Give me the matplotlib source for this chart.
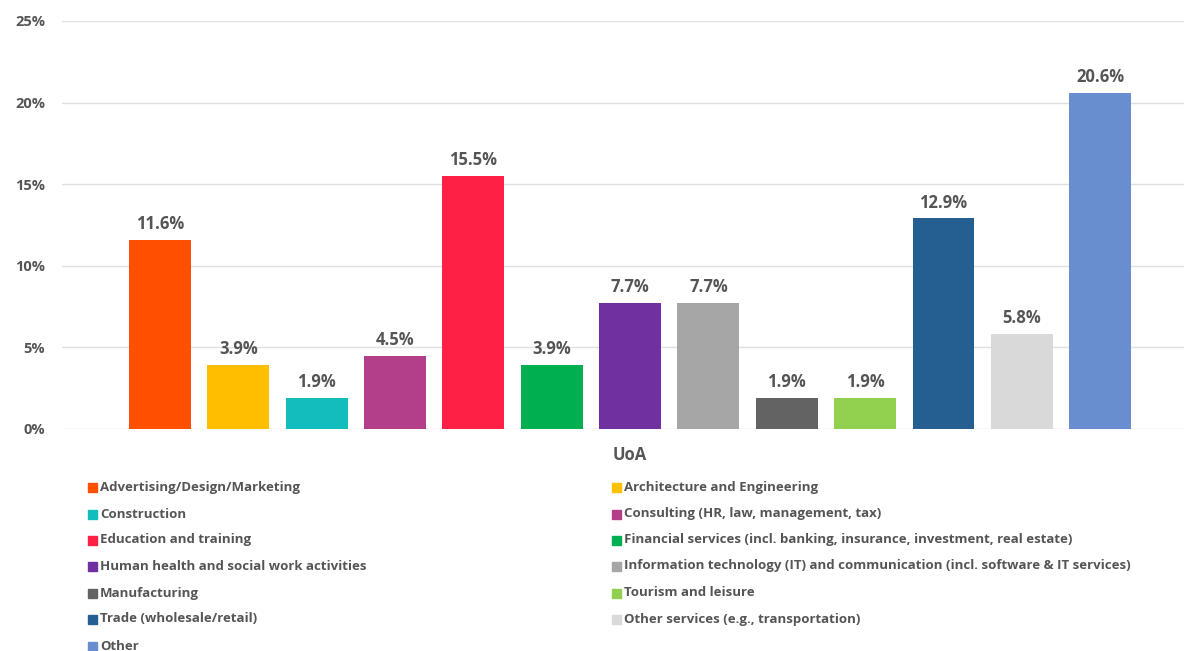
import matplotlib.pyplot as plt
from matplotlib.patches import Rectangle
from matplotlib.ticker import FuncFormatter

categories = [
    "Advertising/Design/Marketing",
    "Architecture and Engineering",
    "Construction",
    "Consulting (HR, law, management, tax)",
    "Education and training",
    "Financial services (incl. banking, insurance, investment, real estate)",
    "Human health and social work activities",
    "Information technology (IT) and communication (incl. software & IT services)",
    "Manufacturing",
    "Tourism and leisure",
    "Trade (wholesale/retail)",
    "Other services (e.g., transportation)",
    "Other",
]
values = [11.6, 3.9, 1.9, 4.5, 15.5, 3.9, 7.7, 7.7, 1.9, 1.9, 12.9, 5.8, 20.6]
colors = ["#FF5000", "#FFBE00", "#12BDBE", "#B33E8A", "#FF2045", "#00B050",
          "#7030A0", "#A6A6A6", "#636363", "#92D050", "#255E91", "#D9D9D9",
          "#698ED0"]
yticks = [0, 5, 10, 15, 20, 25]
xlabel = "UoA"

plt.rcParams['font.family'] = ['Open Sans', 'DejaVu Sans']
text_color = "#555555"

W, H = 1184, 651
fig = plt.figure(figsize=(W / 100, H / 100), dpi=100)
ax = fig.add_axes([62 / W, 1 - 429 / H, 1 - 62 / W, (429 - 21) / H])

positions = list(range(len(values)))
bars = ax.bar(positions, values, width=0.79, color=colors, zorder=3)
for b, v in zip(bars, values):
    ax.annotate(f"{v:.1f}%", (b.get_x() + b.get_width() / 2, v),
                xytext=(0, 5), textcoords="offset points",
                ha="center", va="bottom", fontsize=12, fontweight="bold",
                color=text_color)

ax.set_ylim(0, 25)
ax.set_xlim(-1.251, 13.07)
ax.set_yticks(yticks)
ax.yaxis.set_major_formatter(FuncFormatter(lambda v, p: f"{v:.0f}%"))
ax.tick_params(axis="y", length=0, pad=12, labelsize=10.5, labelcolor=text_color)
for lbl in ax.get_yticklabels():
    lbl.set_fontweight("bold")
ax.set_xticks([])
ax.grid(axis="y", color="#E0E0E0", linewidth=1, zorder=0)
for s in ax.spines.values():
    s.set_visible(False)

fig.text(630 / W, 1 - 455 / H, xlabel, ha="center", va="center",
         fontsize=12, fontweight="bold", color=text_color)

# two-column legend, filled row by row
col_x = [88, 612]
row_y = [487, 514, 540, 566, 593, 619, 646]
for i, (name, c) in enumerate(zip(categories, colors)):
    x = col_x[i % 2]
    y = row_y[i // 2]
    fig.patches.append(Rectangle((x / W, 1 - (y + 4.5) / H), 9 / W, 9 / H,
                                 transform=fig.transFigure, color=c))
    fig.text((x + 12) / W, 1 - y / H, name, ha="left", va="center",
             fontsize=9.5, fontweight="bold", color=text_color)

fig.savefig("out.png", dpi=100, facecolor="white")
